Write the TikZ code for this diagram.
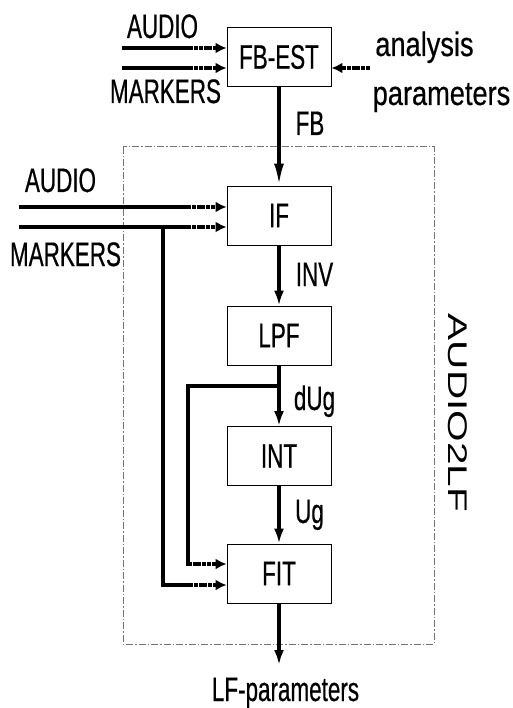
\documentclass[tikz,border=0pt]{standalone}
\usepackage{fontspec}
\setmainfont{Liberation Sans}[FakeStretch=0.66, FakeBold=0.5]
\newfontfamily\midfont{Liberation Sans}[FakeStretch=0.8, FakeBold=0.5]
\newfontfamily\widefont{Liberation Sans}[FakeStretch=1.5]
\usetikzlibrary{arrows.meta}

\begin{document}
\begin{tikzpicture}[x=1pt, y=-1pt,
    blk/.style={draw, line width=0.9pt, minimum width=104pt, minimum height=59pt, inner sep=0pt, font=\fontsize{34}{38}\selectfont},
    lbl/.style={anchor=base, inner sep=0pt, font=\fontsize{34}{38}\selectfont},
    rlbl/.style={lbl, font=\fontsize{34}{38}\midfont},
    wire/.style={line width=3.4pt},
    arr/.style={wire, -{Latex[length=15pt, width=10pt]}},
    inarr/.style={wire, shorten >=38pt, postaction={draw, shorten >=0pt, dash pattern=on 4pt off 0.8pt, -{Latex[length=11pt, width=11pt]}}},
    frame/.style={draw=black!55, line width=1pt, dash pattern=on 7pt off 2pt on 1.5pt off 2pt}
  ]
  \useasboundingbox (0,0) rectangle (512,708);

  % AUDIO2LF frame
  \draw[frame] (123,147) rectangle (434,644);
  \node[rotate=-90, font=\fontsize{27}{30}\widefont] (a2lf) at (458,413) {AUDIO2LF};

  % blocks
  \node[blk] (fbest) at (279,57)    {FB-EST};
  \node[blk] (if)    at (279,215.5) {IF};
  \node[blk] (lpf)   at (279,335.5) {LPF};
  \node[blk] (int)   at (279,456)   {INT};
  \node[blk] (fit)   at (279,573.5) {FIT};

  % free ends and taps
  \coordinate (au1)  at (122,48);
  \coordinate (mk1)  at (122,68);
  \coordinate (ana)  at (370,68);
  \coordinate (au2)  at (19,207);
  \coordinate (mk2)  at (19,227);
  \coordinate (mtap) at (163,227);
  \coordinate (dtap) at (279,386);
  \coordinate (dcrn) at (188,386);
  \coordinate (out)  at (279,665);

  % inputs to FB-EST
  \draw[inarr] (au1) -- (au1 -| fbest.west);
  \draw[inarr] (mk1) -- (mk1 -| fbest.west);
  \draw[inarr] (ana) -- (ana -| fbest.east);

  % inputs to IF
  \draw[inarr] (au2) -- (au2 -| if.west);
  \draw[inarr] (mk2) -- (mk2 -| if.west);

  % main chain
  \draw[wire, -{Latex[length=22pt, width=10pt]}] (fbest) -- (if);
  \draw[arr] (if) -- (lpf);
  \draw[arr] (lpf) -- (int);
  \draw[arr] (int) -- (fit);
  \draw[arr] (fit) -- (out);

  % taps into FIT
  \draw[inarr] (dtap) -- (dcrn) |- ([yshift=9.5pt]fit.west);
  \draw[inarr] (mtap) |- ([yshift=-11.5pt]fit.west);

  % labels
  \node[lbl]  (lau1) at (162.5,38)  {AUDIO};
  \node[lbl]  (lmk1) at (165.5,103) {MARKERS};
  \node[rlbl] (lana) at (424.5,56)  {analysis};
  \node[rlbl] (lpar) at (441.5,105) {parameters};
  \node[lbl]  (lfb)  at (310,135)   {FB};
  \node[lbl]  (lau2) at (60.5,192)  {AUDIO};
  \node[lbl]  (lmk2) at (65.5,266)  {MARKERS};
  \node[lbl]  (linv) at (314.5,286) {INV};
  \node[lbl]  (ldug) at (314.5,410) {dUg};
  \node[lbl]  (lug)  at (309.5,523) {Ug};
  \node[lbl]  (llf)  at (285.5,701) {LF-parameters};
\end{tikzpicture}
\end{document}
